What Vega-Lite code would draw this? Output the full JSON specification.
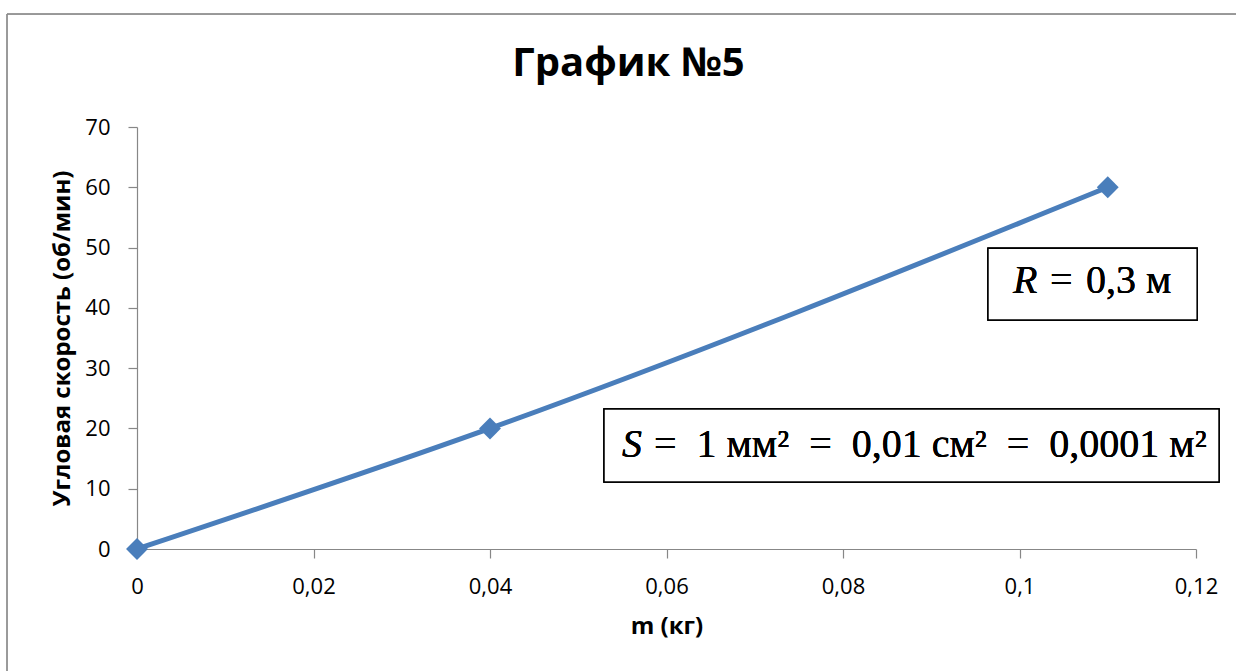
{
  "$schema": "https://vega.github.io/schema/vega-lite/v6.json",
  "autosize": {"type": "none"},
  "width": 1059,
  "height": 422,
  "padding": {"left": 137, "top": 127, "right": 40, "bottom": 122},
  "background": "white",
  "title": {
    "text": "График №5",
    "font": "Open Sans",
    "fontSize": 40,
    "fontWeight": "bold",
    "color": "black",
    "anchor": "middle",
    "frame": "group",
    "baseline": "alphabetic",
    "offset": -102,
    "dx": -38
  },
  "config": {
    "view": {"stroke": null},
    "axis": {
      "gridColor": "#878787",
      "gridWidth": 1.2,
      "domainColor": "#878787",
      "domainWidth": 1.2,
      "tickColor": "#878787",
      "tickWidth": 1.2,
      "tickSize": 9,
      "labelFont": "Open Sans",
      "labelFontSize": 22,
      "labelColor": "black",
      "labelPadding": 18,
      "titleFont": "Open Sans",
      "titleFontSize": 24,
      "titleFontWeight": "bold",
      "titleColor": "black"
    }
  },
  "data": {
    "values": [
      {"m": 0, "w": 0},
      {"m": 0.04, "w": 20},
      {"m": 0.11, "w": 60}
    ]
  },
  "layer": [
    {
      "mark": {"type": "rect", "fillOpacity": 0, "stroke": "#8c8c8c", "strokeWidth": 1},
      "encoding": {
        "x": {"datum": -0.01473, "type": "quantitative"},
        "x2": {"datum": 0.3},
        "y": {"datum": 88.74, "type": "quantitative"},
        "y2": {"datum": -50}
      }
    },
    {
      "mark": {
        "type": "line",
        "interpolate": "monotone",
        "color": "#4a7ebb",
        "strokeWidth": 5,
        "point": {"shape": "diamond", "size": 480, "filled": true, "color": "#4a7ebb"}
      },
      "encoding": {
        "x": {
          "field": "m",
          "type": "quantitative",
          "title": "m (кг)",
          "scale": {"domain": [0, 0.12], "nice": false, "zero": false},
          "axis": {
            "values": [0, 0.02, 0.04, 0.06, 0.08, 0.1, 0.12],
            "labelExpr": "replace(toString(datum.value), '.', ',')",
            "titlePadding": 17,
            "labelFlush": false
          }
        },
        "y": {
          "field": "w",
          "type": "quantitative",
          "title": "Угловая скорость (об/мин)",
          "scale": {"domain": [0, 70], "nice": false, "zero": false},
          "axis": {
            "values": [0, 10, 20, 30, 40, 50, 60, 70],
            "titlePadding": 10
          }
        }
      }
    },
    {
      "mark": {"type": "rect", "fill": "white", "stroke": "black", "strokeWidth": 1.5},
      "encoding": {
        "x": {"datum": 0.09643, "type": "quantitative"},
        "x2": {"datum": 0.12013},
        "y": {"datum": 49.88, "type": "quantitative"},
        "y2": {"datum": 37.99}
      }
    },
    {
      "mark": {"type": "rect", "fill": "white", "stroke": "black", "strokeWidth": 1.5},
      "encoding": {
        "x": {"datum": 0.05292, "type": "quantitative"},
        "x2": {"datum": 0.12261},
        "y": {"datum": 23.22, "type": "quantitative"},
        "y2": {"datum": 11.11}
      }
    },
    {
      "mark": {"type": "text", "font": "Liberation Serif", "fontSize": 40, "fontStyle": "italic", "align": "left", "baseline": "alphabetic", "color": "black"},
      "encoding": {
        "x": {"datum": 0.09926, "type": "quantitative"},
        "y": {"datum": 42.41, "type": "quantitative"},
        "text": {"value": "R"}
      }
    },
    {
      "mark": {"type": "text", "font": "Liberation Serif", "fontSize": 40, "align": "left", "baseline": "alphabetic", "color": "black"},
      "encoding": {
        "x": {"datum": 0.10346, "type": "quantitative"},
        "y": {"datum": 42.41, "type": "quantitative"},
        "text": {"value": "=\u20040,3 м"}
      }
    },
    {
      "mark": {"type": "text", "font": "Liberation Serif", "fontSize": 40, "fontStyle": "italic", "align": "left", "baseline": "alphabetic", "color": "black"},
      "encoding": {
        "x": {"datum": 0.05496, "type": "quantitative"},
        "y": {"datum": 15.26, "type": "quantitative"},
        "text": {"value": "S"}
      }
    },
    {
      "mark": {"type": "text", "font": "Liberation Serif", "fontSize": 40, "align": "left", "baseline": "alphabetic", "color": "black"},
      "encoding": {
        "x": {"datum": 0.05858, "type": "quantitative"},
        "y": {"datum": 15.26, "type": "quantitative"},
        "text": {"value": "=\u20021 мм²\u2002=\u20020,01 см²\u2002=\u20020,0001 м²"}
      }
    }
  ]
}
